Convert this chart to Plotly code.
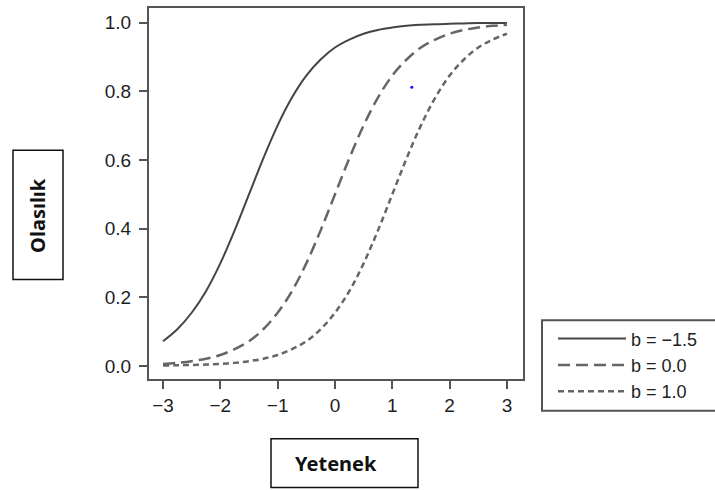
import plotly.graph_objects as go

# Ability (Yetenek) grid
theta = [-3.0, -2.75, -2.5, -2.25, -2.0, -1.75, -1.5, -1.25, -1.0, -0.75, -0.5, -0.25,
         0.0, 0.25, 0.5, 0.75, 1.0, 1.25, 1.5, 1.75, 2.0, 2.25, 2.5, 2.75, 3.0]

# Probability (Olasılık)
p_b_m15 = [0.072, 0.107, 0.155, 0.218, 0.299, 0.395, 0.500, 0.605, 0.701, 0.782, 0.846, 0.893,
           0.928, 0.951, 0.968, 0.979, 0.986, 0.991, 0.994, 0.996, 0.997, 0.998, 0.999, 0.999, 0.999]
p_b_00 = [0.006, 0.009, 0.014, 0.021, 0.032, 0.049, 0.072, 0.107, 0.155, 0.218, 0.299, 0.395,
          0.500, 0.605, 0.701, 0.782, 0.846, 0.893, 0.928, 0.951, 0.968, 0.979, 0.986, 0.991, 0.994]
p_b_10 = [0.001, 0.002, 0.003, 0.004, 0.006, 0.009, 0.014, 0.021, 0.032, 0.049, 0.072, 0.107,
          0.155, 0.218, 0.299, 0.395, 0.500, 0.605, 0.701, 0.782, 0.846, 0.893, 0.928, 0.951, 0.968]

series_names = ["b = \u22121.5", "b = 0.0", "b = 1.0"]

# stray blue dot visible in the picture
dot_x = [1.34]
dot_y = [0.812]

x_tickvals = [-3, -2, -1, 0, 1, 2, 3]
x_ticktext = ["\u22123", "\u22122", "\u22121", "0", "1", "2", "3"]
y_tickvals = [0.0, 0.2, 0.4, 0.6, 0.8, 1.0]
y_ticktext = ["0.0", "0.2", "0.4", "0.6", "0.8", "1.0"]

W, H = 715, 490
L, R, T, B = 149, 523, 6, 379  # plot area pixel bounds


def px(p):
    return (p - L) / (R - L)


def py(p):
    return (B - p) / (B - T)


fig = go.Figure()
fig.add_trace(go.Scatter(x=theta, y=p_b_m15, mode="lines", name=series_names[0], legendgroup="a",
                         line=dict(color="#444444", width=2, shape="spline")))
fig.add_trace(go.Scatter(x=theta, y=p_b_00, mode="lines", name=series_names[1], legendgroup="b",
                         line=dict(color="#666666", width=2.5, dash="12px,6px", shape="spline")))
fig.add_trace(go.Scatter(x=theta, y=p_b_10, mode="lines", name=series_names[2], legendgroup="c",
                         line=dict(color="#666666", width=2.5, dash="6px,4px", shape="spline")))
fig.add_trace(go.Scatter(x=dot_x, y=dot_y, mode="markers", showlegend=False, hoverinfo="skip",
                         marker=dict(color="#1010ff", size=3)))

tickfont = dict(family="Liberation Sans, Arial, sans-serif", size=19, color="#1e1e1e")
fig.update_xaxes(range=[-3.244, 3.28], tickvals=x_tickvals, ticktext=x_ticktext,
                 showline=True, mirror=True, linecolor="#555", linewidth=2,
                 ticks="outside", ticklen=8, tickwidth=1.5, tickcolor="#555",
                 showgrid=False, zeroline=False, tickfont=tickfont)
fig.update_yaxes(range=[-0.038, 1.043], tickvals=y_tickvals, ticktext=y_ticktext,
                 showline=True, mirror=True, linecolor="#555", linewidth=2,
                 ticks="outside", ticklen=8, tickwidth=1.5, tickcolor="#555",
                 showgrid=False, zeroline=False, tickfont=tickfont, ticklabelstandoff=4)

box_line = dict(color="#111", width=1.5)
shapes = [
    # y-title box
    dict(type="rect", xref="paper", yref="paper", x0=px(13), x1=px(63), y0=py(279), y1=py(149),
         line=box_line, fillcolor="rgba(0,0,0,0)"),
    # x-title box
    dict(type="rect", xref="paper", yref="paper", x0=px(271), x1=px(418), y0=py(488), y1=py(439),
         line=box_line, fillcolor="rgba(0,0,0,0)"),
    # legend frame (runs off the right edge)
    dict(type="rect", xref="paper", yref="paper", x0=px(542), x1=px(740), y0=py(411), y1=py(320),
         line=dict(color="#555", width=2), fillcolor="rgba(0,0,0,0)"),
]

titlefont = dict(family="Noto Sans, Open Sans, sans-serif", size=20, color="#111")
annotations = [
    dict(text="<b>Olas\u0131l\u0131k</b>", xref="paper", yref="paper", x=px(38), y=py(214),
         showarrow=False, textangle=-90, font=titlefont, xanchor="center", yanchor="middle"),
    dict(text="<b>Yetenek</b>", xref="paper", yref="paper", x=px(336), y=py(464),
         showarrow=False, font=titlefont, xanchor="center", yanchor="middle"),
]

fig.update_layout(
    width=W, height=H, autosize=False,
    margin=dict(l=L, r=W - R, t=T, b=H - B, pad=0),
    plot_bgcolor="white", paper_bgcolor="white",
    shapes=shapes, annotations=annotations,
    showlegend=True,
    legend=dict(x=px(553), y=py(320), xanchor="left", yanchor="top",
                font=dict(family="Liberation Sans, Arial, sans-serif", size=18, color="#1e1e1e"),
                bgcolor="rgba(0,0,0,0)", borderwidth=0, itemwidth=68, tracegroupgap=4,
                traceorder="normal"),
)

fig.write_html("out.html", config={"displayModeBar": False},
               post_script="document.body.style.margin='0';")
